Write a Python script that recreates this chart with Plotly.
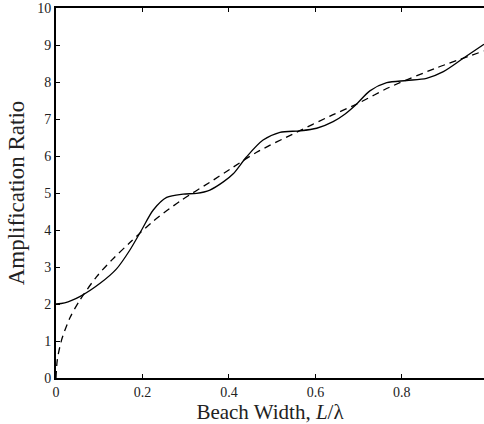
import plotly.graph_objects as go

# Solid curve
x_solid = [0.0, 0.02, 0.055, 0.102, 0.14, 0.171, 0.198, 0.225, 0.256, 0.294, 0.325, 0.356,
           0.387, 0.41, 0.441, 0.479, 0.518, 0.564, 0.603, 0.641, 0.668, 0.695, 0.726,
           0.765, 0.811, 0.857, 0.896, 0.942, 0.99]
y_solid = [2.0, 2.03, 2.2, 2.56, 2.95, 3.46, 4.0, 4.54, 4.88, 4.97, 4.99, 5.08,
           5.3, 5.52, 5.98, 6.43, 6.64, 6.68, 6.75, 6.93, 7.13, 7.4, 7.76,
           7.98, 8.04, 8.1, 8.28, 8.64, 9.02]

# Dashed curve
x_dash = [0.0, 0.003, 0.013, 0.032, 0.055, 0.094, 0.13, 0.171, 0.225, 0.287, 0.364,
          0.402, 0.464, 0.556, 0.634, 0.695, 0.772, 0.88, 0.99]
y_dash = [0.0, 0.49, 1.03, 1.62, 2.1, 2.74, 3.2, 3.66, 4.24, 4.78, 5.35,
          5.64, 6.1, 6.64, 7.08, 7.4, 7.86, 8.38, 8.84]

x_ticks = [0, 0.2, 0.4, 0.6, 0.8]
x_ticklabels = ["0", "0.2", "0.4", "0.6", "0.8"]
y_ticks = list(range(0, 11))

FONT = "Liberation Serif"

fig = go.Figure()
fig.add_trace(go.Scatter(x=x_dash, y=y_dash, mode="lines",
                         line=dict(color="black", width=1.3, dash="7px,5px", shape="spline", smoothing=0.8)))
fig.add_trace(go.Scatter(x=x_solid, y=y_solid, mode="lines",
                         line=dict(color="black", width=1.3, shape="spline", smoothing=0.8)))

fig.update_layout(
    width=484, height=424,
    margin=dict(l=56, r=0, t=8, b=46),
    paper_bgcolor="white", plot_bgcolor="white",
    showlegend=False,
    font=dict(family=FONT, color="#222", size=14),
    xaxis=dict(range=[0, 0.99], tickvals=x_ticks, ticktext=x_ticklabels,
               showgrid=False, zeroline=False, showline=True, linecolor="black", linewidth=2,
               mirror="ticks", ticks="inside", ticklen=4, tickcolor="black",
               title=dict(text="Beach Width, <i>L</i>/λ", font=dict(size=21), standoff=3)),
    yaxis=dict(range=[0, 10], tickvals=y_ticks,
               showgrid=False, zeroline=False, showline=True, linecolor="black", linewidth=2,
               ticks="inside", ticklen=4, tickcolor="black",
               title=dict(text="Amplification Ratio", font=dict(size=23), standoff=6)),
)

fig.write_html("out.html")
